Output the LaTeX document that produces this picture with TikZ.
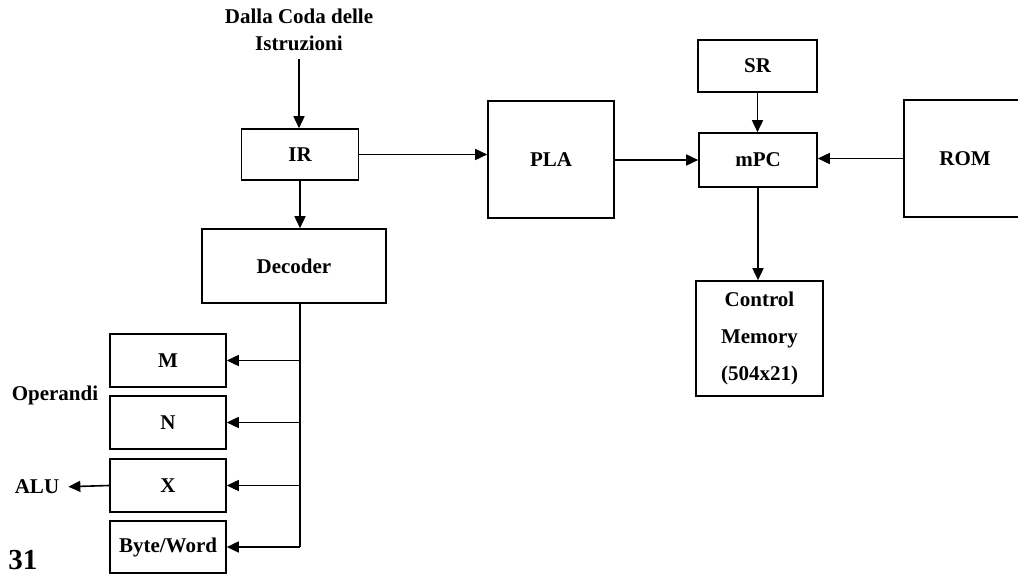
\documentclass[tikz,border=0pt]{standalone}
\usepackage{fontspec}
\setmainfont{Liberation Serif}
\usetikzlibrary{arrows.meta,positioning}

\begin{document}
\begin{tikzpicture}[x=1pt, y=-1pt,
  blk/.style={draw, line width=1.6pt, inner sep=0pt, align=center, font=\bfseries\fontsize{21}{37}\selectfont},
  lbl/.style={inner sep=0pt, align=center, font=\bfseries\fontsize{21}{27}\selectfont},
  arr/.style={line width=1.6pt, -{Triangle[length=12pt, width=11pt]}}]
  \clip (0,0) rectangle (1018,577);

  % Upper row
  \node[lbl] (coda) at (299,30) {Dalla Coda delle\\Istruzioni};
  \node[blk, minimum width=117, minimum height=51] (IR) at (300,154.5) {IR};
  \node[blk, minimum width=126, minimum height=117] (PLA) at (551,159.5) {PLA};
  \node[blk, minimum width=119, minimum height=52] (SR) at (757.5,66) {SR};
  \node[blk, minimum width=118, minimum height=54] (mPC) at (758,160) {mPC};
  \node[blk, minimum width=122, minimum height=117] (ROM) at (965,158.5) {ROM};
  \node[blk, minimum width=127, minimum height=115] (CM) at (759.5,338.5) {Control\\Memory\\(504x21)};

  % Decoder and operands
  \node[blk, minimum width=184, minimum height=74] (Dec) at (294,266) {Decoder};
  \node[blk, minimum width=116, minimum height=53] (M) at (168,360.5) {M};
  \node[blk, minimum width=116, minimum height=53] (N) at (168,422.5) {N};
  \node[blk, minimum width=116, minimum height=53] (X) at (168,485.5) {X};
  \node[blk, minimum width=116, minimum height=52] (BW) at (168,547) {Byte/Word};
  \node[lbl] (oper) at (55,395) {Operandi};
  \node[lbl] (ALU) at (37,487) {ALU};
  \node[inner sep=0pt, font=\bfseries\fontsize{29}{32}\selectfont] (num) at (23,560) {31};

  % Connections
  \draw[arr, shorten <=8pt] (coda.south) -- (coda.south |- IR.north);
  \draw[arr] (IR.east) -- (IR.east -| PLA.west);
  \draw[arr] (mPC.west -| PLA.east) -- (mPC.west);
  \draw[arr] (ROM.west) -- (ROM.west -| mPC.east);
  \draw[arr] (SR.south) -- (SR.south |- mPC.north);
  \draw[arr] (mPC.south) -- (mPC.south |- CM.north);
  \draw[arr] (IR.south) -- (IR.south |- Dec.north);

  % Bus
  \coordinate (busTop) at (IR.south |- Dec.south);
  \coordinate (busEnd) at (IR.south |- BW.east);
  \draw[line width=1.6pt] (busTop) -- (busEnd);
  \foreach \b in {M,N,X,BW}
    \draw[arr] (busTop |- \b.east) -- (\b.east);
  \draw[arr, shorten >=9pt] (X.west) -- (ALU.east);
\end{tikzpicture}
\end{document}
